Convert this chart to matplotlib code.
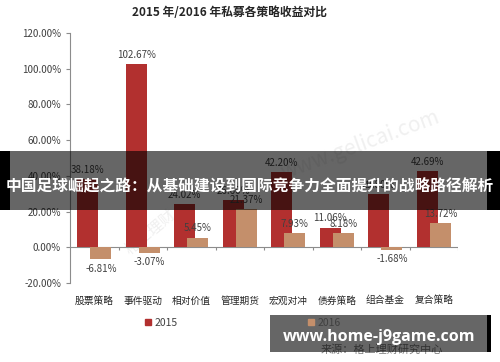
import matplotlib
matplotlib.use('Agg')
import matplotlib.pyplot as plt
from matplotlib.patches import Rectangle, Patch
import numpy as np

plt.rcParams['font.family'] = ['Noto Sans CJK SC', 'DejaVu Sans']

# data (two 2015 values hidden under the banner are estimated)
categories = ['股票策略', '事件驱动', '相对价值', '管理期货', '宏观对冲', '债券策略', '组合基金', '复合策略']
returns_2015 = [38.18, 102.67, 24.02, 26.60, 42.20, 11.06, 29.80, 42.69]
returns_2016 = [-6.81, -3.07, 5.45, 21.37, 7.93, 8.18, -1.68, 13.72]
y_ticks = [-20, 0, 20, 40, 60, 80, 100, 120]

title = '2015 年/2016 年私募各策略收益对比'
banner_text = '中国足球崛起之路：从基础建设到国际竞争力全面提升的战略路径解析'
site_text = 'www.home-j9game.com'
source_text = '来源：格上理财研究中心'

red = '#B2302F'
tan = '#C48F6B'
label_color = '#404040'

W, H = 500, 362
fig = plt.figure(figsize=(W / 100, H / 100), dpi=100)
ax = fig.add_axes([70 / W, 1 - 283 / H, 388 / W, 250 / H])

x = np.arange(len(categories))
bw = 0.43
off = 0.135
ax.bar(x - off, returns_2015, bw, color=red, zorder=2, label='2015')
ax.bar(x + off, returns_2016, bw, color=tan, zorder=3, label='2016')

def put_labels(xs, vals):
    for xi, v in zip(xs, vals):
        if v >= 0:
            ax.annotate(f'{v:.2f}%', (xi, v), xytext=(0, 3), textcoords='offset points',
                        ha='center', va='bottom', fontsize=7, color=label_color, zorder=4)
        else:
            ax.annotate(f'{v:.2f}%', (xi, v), xytext=(0, -3), textcoords='offset points',
                        ha='center', va='top', fontsize=7, color=label_color, zorder=4)

put_labels(x - off, returns_2015)
put_labels(x + off, returns_2016)

ax.set_xlim(-0.5, len(categories) - 0.5)
ax.set_ylim(-20, 120)
ax.set_yticks(y_ticks)
ax.set_yticklabels([f'{t:.2f}%' for t in y_ticks], fontsize=7, color=label_color)
ax.set_xticks(x)
ax.set_xticklabels(categories, fontsize=7, color='#262626')
ax.tick_params(axis='x', length=0, pad=9)
ax.tick_params(axis='y', length=3, color='#8c8c8c', width=0.8)

for s in ['top', 'right', 'bottom']:
    ax.spines[s].set_visible(False)
ax.spines['left'].set_color('#8c8c8c')
ax.spines['left'].set_linewidth(0.8)

# zero line with category separator ticks
ax.axhline(0, color='#8c8c8c', lw=0.8, zorder=1)
ax.vlines(np.arange(len(categories)) + 0.5, -1.7, 0, color='#8c8c8c', lw=0.8, zorder=1)

# faint watermarks, behind the bars
ax.text(0.72, 0.60, 'www.gelicai.com', rotation=20, fontsize=15, color='#f0f0f0',
        ha='center', va='center', zorder=0.5, transform=fig.transFigure)
ax.text(0.30, 0.36, '格上理财', rotation=40, fontsize=11, color='#f0f0f0',
        ha='center', va='center', zorder=0.5, transform=fig.transFigure)

fig.text(229 / W, 1 - 12 / H, title, fontsize=8.5, fontweight='bold', color='#262626',
         ha='center', va='center')

handles = [Patch(color=red, label='2015'), Patch(color=tan, label='2016')]
fig.legend(handles=handles, loc='center', bbox_to_anchor=(243 / W, 1 - 322.5 / H), ncol=2,
           frameon=False, fontsize=7.5, handlelength=0.6, handleheight=0.6,
           handletextpad=0.35, columnspacing=12.5, labelcolor=label_color)

fig.text(382 / W, 1 - 350 / H, source_text, fontsize=8, color='#7f7f7f',
         ha='center', va='center')

# overlay banners
fig.patches.append(Rectangle((10 / W, 1 - 210 / H), 477 / W, 59 / H, transform=fig.transFigure,
                             facecolor='black', alpha=0.6, edgecolor='none', zorder=5))
fig.patches.append(Rectangle((0, 1 - 210 / H), 10 / W, 59 / H, transform=fig.transFigure,
                             facecolor='black', edgecolor='none', zorder=5))
fig.patches.append(Rectangle((487 / W, 1 - 210 / H), 13 / W, 59 / H, transform=fig.transFigure,
                             facecolor='black', edgecolor='none', zorder=5))
fig.text(0.5, 1 - 186 / H, banner_text, fontsize=11.3, fontweight='bold', color='white',
         ha='center', va='center', zorder=6)

fig.patches.append(Rectangle((270 / W, 1 - 352 / H), 217 / W, 37 / H, transform=fig.transFigure,
                             facecolor='black', alpha=0.6, edgecolor='none', zorder=5))
fig.patches.append(Rectangle((487 / W, 1 - 352 / H), 4 / W, 37 / H, transform=fig.transFigure,
                             facecolor='black', edgecolor='none', zorder=5))
fig.text(379 / W, 1 - 337 / H, site_text, fontsize=11.5, fontweight='bold', color='white',
         family=['Open Sans', 'DejaVu Sans'], ha='center', va='center', zorder=6)

fig.savefig('out.png', dpi=100)
